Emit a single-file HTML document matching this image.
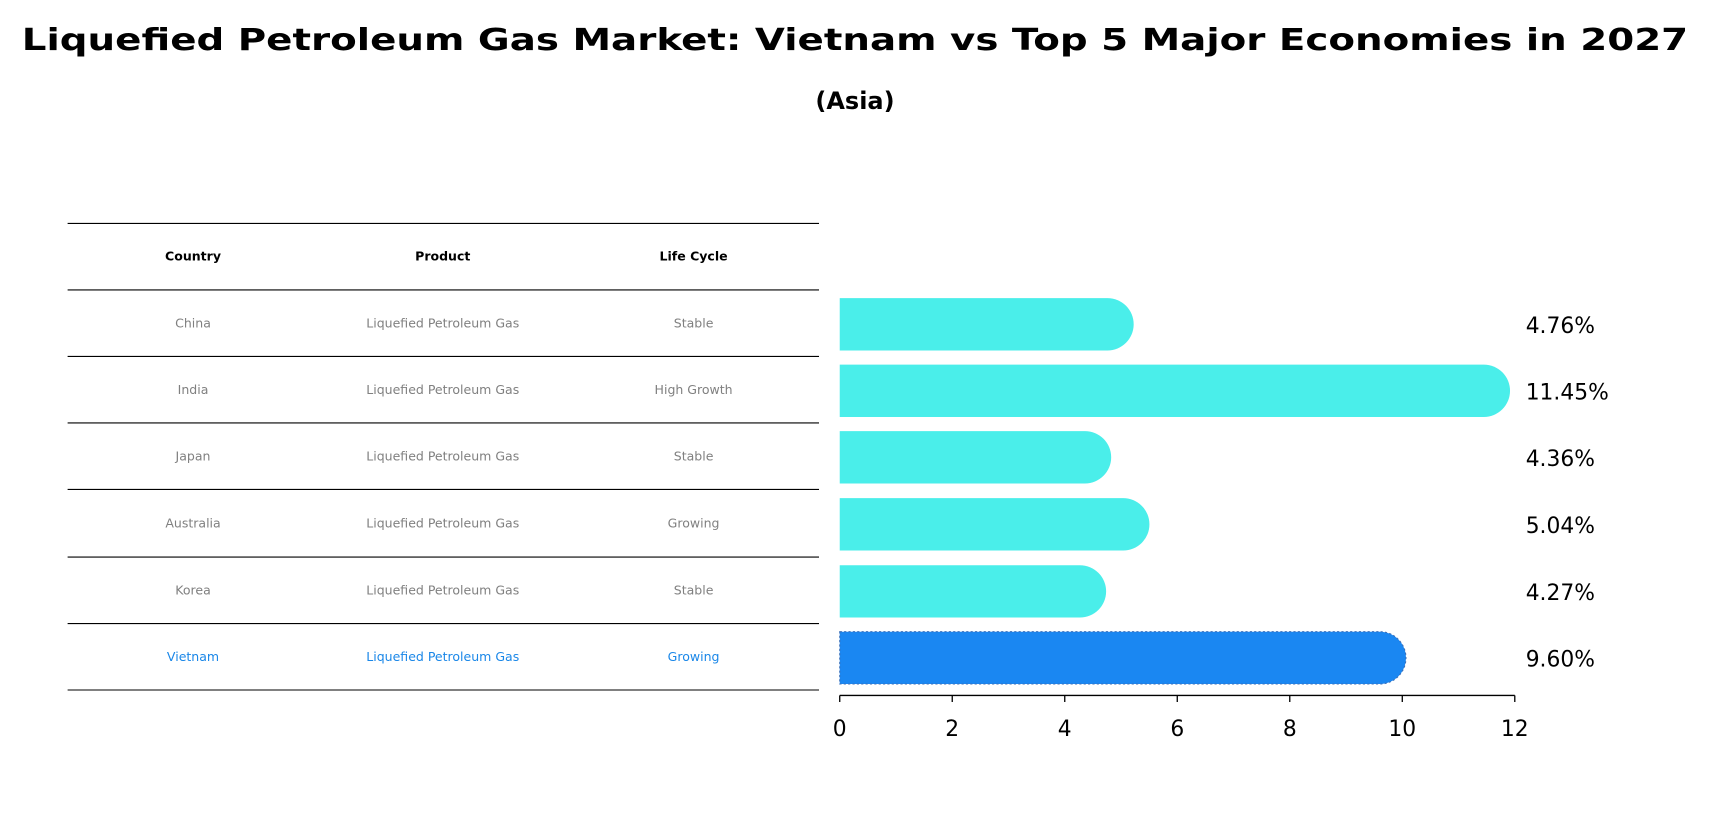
<!DOCTYPE html>
<html><head><meta charset="utf-8"><style>
html,body{margin:0;padding:0;background:#fff;}
svg{display:block;font-family:"DejaVu Sans","Liberation Sans",sans-serif;}
</style></head><body>
<svg id="chart" width="1710" height="823" viewBox="0 0 1568 755" preserveAspectRatio="none" xmlns="http://www.w3.org/2000/svg">
<text x="784" y="46" text-anchor="middle" font-size="28" font-weight="bold" textLength="1528" lengthAdjust="spacingAndGlyphs">Liquefied Petroleum Gas Market: Vietnam vs Top 5 Major Economies in 2027</text>
<text x="784" y="100" text-anchor="middle" font-size="22" font-weight="bold">(Asia)</text>
<g id="table"></g>
<g id="bars"></g>
</svg>
<script>
const countries = ["China","India","Japan","Australia","Korea","Vietnam"];
const products = ["Liquefied Petroleum Gas","Liquefied Petroleum Gas","Liquefied Petroleum Gas","Liquefied Petroleum Gas","Liquefied Petroleum Gas","Liquefied Petroleum Gas"];
const lifeCycles = ["Stable","High Growth","Stable","Growing","Stable","Growing"];
const values = [4.76,11.45,4.36,5.04,4.27,9.60];
const valueLabels = ["4.76%","11.45%","4.36%","5.04%","4.27%","9.60%"];
const ticks = [0,2,4,6,8,10,12];

const NS="http://www.w3.org/2000/svg";
function mk(tag,attrs,parent){const e=document.createElementNS(NS,tag);for(const k in attrs)e.setAttribute(k,attrs[k]);parent.appendChild(e);return e;}
const table=document.getElementById('table');
const bars=document.getElementById('bars');

// table
const lineYs=[205,266,327,388,449,511,572,633];
const colX=[177,406,636];
lineYs.forEach((y,i)=>{const l=mk('line',{x1:62,x2:751,y1:y,y2:y,stroke:'#000','stroke-width':1},table);

});
["Country","Product","Life Cycle"].forEach((h,j)=>{const t=mk('text',{x:colX[j],y:239,'text-anchor':'middle','font-size':11.5,'font-weight':'bold',fill:'#000'},table);t.textContent=h;

});
countries.forEach((c,i)=>{
  const y=(lineYs[i+1]+lineYs[i+2])/2+4;
  const col=c==="Vietnam"?"#1a87e8":"#808080";
  [c,products[i],lifeCycles[i]].forEach((v,j)=>{const t=mk('text',{x:colX[j],y:y,'text-anchor':'middle','font-size':11.5,fill:col},table);t.textContent=v;
  
  });
});

// bars
const x0=770,x1=1389,vmax=12;
const xs=v=>x0+(x1-x0)*v/vmax;
const barH=48, r=24;
countries.forEach((c,i)=>{
  const cy=(lineYs[i+1]+lineYs[i+2])/2+1;
  const isV=c==="Vietnam";
  const col=isV?"#1a87f2":"#4aeeea";
  const xe=xs(values[i]);
  const p=mk('path',{d:`M${x0},${cy-barH/2} H${xe} A${r},${r} 0 0 1 ${xe},${cy+barH/2} H${x0} Z`,fill:col},bars);
  if(isV){p.setAttribute('stroke','#3b6fb8');p.setAttribute('stroke-dasharray','2,2');p.setAttribute('stroke-width','1');}
  
  
  const t=mk('text',{x:1399,y:cy+8,'font-size':20,fill:'#000'},bars);t.textContent=valueLabels[i];
  
  
});
const ax=mk('line',{x1:x0,x2:x1,y1:638,y2:638,stroke:'#000','stroke-width':1.2},bars);


ticks.forEach(v=>{
  const tk=mk('line',{x1:xs(v),x2:xs(v),y1:638,y2:644,stroke:'#000','stroke-width':1.2},bars);
  
  
  const t=mk('text',{x:xs(v),y:675,'text-anchor':'middle','font-size':20,fill:'#000'},bars);t.textContent=v;
  
  
});
</script>
</body></html>
